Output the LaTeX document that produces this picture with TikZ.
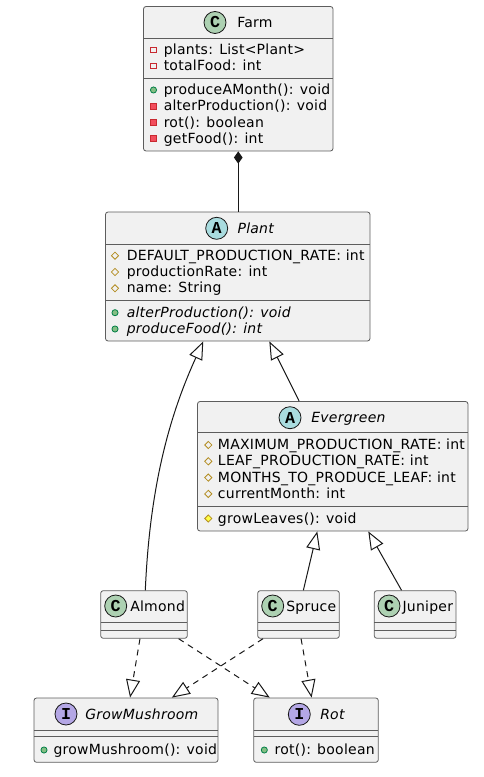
\documentclass[tikz,border=0pt]{standalone}
\usepackage{fontspec}
\setmainfont{DejaVu Sans}[LetterSpace=1.8]
\newfontfamily\circfont{Liberation Mono}
\usetikzlibrary{arrows.meta,fit,calc}
\definecolor{boxfill}{HTML}{F1F1F1}
\definecolor{linec}{HTML}{181818}
\definecolor{cC}{HTML}{ADD1B2}
\definecolor{cA}{HTML}{A9DCDF}
\definecolor{cI}{HTML}{B4A7E5}
\definecolor{privS}{HTML}{C82930}
\definecolor{privF}{HTML}{F24D5C}
\definecolor{protS}{HTML}{B38D22}
\definecolor{protF}{HTML}{FFFF44}
\definecolor{pubS}{HTML}{038048}
\definecolor{pubF}{HTML}{84BE84}
\tikzset{
  box/.style={draw=linec!70, fill=boxfill, line width=0.6pt, rounded corners=1.9pt, inner sep=0pt},
  sepl/.style={draw=linec!70, line width=0.6pt},
  txt/.style={anchor=base west, inner sep=0pt, text=black, font=\fontsize{10.5}{12}\selectfont},
  itxt/.style={txt, font=\fontsize{10.5}{12}\selectfont\itshape},
  letter/.style={circle, draw=linec, line width=0.6pt, minimum size=16.5pt, inner sep=0pt, font=\circfont\bfseries\fontsize{12.5}{12}\selectfont},
  edge/.style={draw=linec, line width=0.75pt},
  ext/.style={edge, -{Triangle[open, length=13.5pt, width=10.5pt, fill=white]}},
  real/.style={ext, dash pattern=on 4.5pt off 3.75pt},
  comp/.style={edge, {Diamond[length=9.2pt, width=6.5pt]}-},
}
% icons: #1 = x centre, #2 = text baseline
\newcommand\privFld[2]{\draw[draw=privS, line width=0.6pt] ({#1-2.8},{#2-7.3}) rectangle ({#1+2.8},{#2-1.7});}
\newcommand\privMth[2]{\draw[draw=privS, fill=privF, line width=0.6pt] ({#1-2.8},{#2-7.3}) rectangle ({#1+2.8},{#2-1.7});}
\newcommand\protFld[2]{\draw[draw=protS, line width=0.6pt] ({#1-3.6},{#2-4.5}) -- ({#1},{#2-8.1}) -- ({#1+3.6},{#2-4.5}) -- ({#1},{#2-0.9}) -- cycle;}
\newcommand\protMth[2]{\draw[draw=protS, fill=protF, line width=0.6pt] ({#1-3.6},{#2-4.5}) -- ({#1},{#2-8.1}) -- ({#1+3.6},{#2-4.5}) -- ({#1},{#2-0.9}) -- cycle;}
\newcommand\pubMth[2]{\draw[draw=pubS, fill=pubF, line width=0.6pt] ({#1},{#2-4.5}) circle[radius=2.3pt];}
% row: name, icon, icon x, text x, baseline, style, text
\newcommand\mrow[7]{#2{#3}{#5}\node[#6] (#1) at (#4,#5) {#7};}
\begin{document}
\begin{tikzpicture}[x=0.75pt, y=-0.75pt]
\useasboundingbox (0,0) rectangle (483,777);

% ---------- Farm ----------
\node[box, fit={(143.5,6.5) (333,151)}] (farm) {};
\draw[sepl] (143.5,38.5) -- (333,38.5);
\draw[sepl] (143.5,78.5) -- (333,78.5);
\node[letter, fill=cC] (farmL) at (215,22.5) {C};
\node[txt] (farmN) at (237,27.7) {Farm};
\mrow{farmA1}{\privFld}{153.5}{163.5}{54.5}{txt}{plants: List<Plant>}
\mrow{farmA2}{\privFld}{153.5}{163.5}{70.5}{txt}{totalFood: int}
\mrow{farmM1}{\pubMth}{153.5}{163.5}{94.5}{txt}{produceAMonth(): void}
\mrow{farmM2}{\privMth}{153.5}{163.5}{110.8}{txt}{alterProduction(): void}
\mrow{farmM3}{\privMth}{153.5}{163.5}{127.1}{txt}{rot(): boolean}
\mrow{farmM4}{\privMth}{153.5}{163.5}{143.2}{txt}{getFood(): int}

% ---------- Plant ----------
\node[box, fit={(105.5,212) (370,341)}] (plant) {};
\draw[sepl] (105.5,244) -- (370,244);
\draw[sepl] (105.5,300.6) -- (370,300.6);
\node[letter, fill=cA] (plantL) at (216.7,228.3) {A};
\node[itxt] (plantN) at (237.3,233.3) {Plant};
\mrow{plantA1}{\protFld}{115}{126.5}{260.2}{txt}{DEFAULT\_PRODUCTION\_RATE: int}
\mrow{plantA2}{\protFld}{115}{126.5}{276.5}{txt}{productionRate: int}
\mrow{plantA3}{\protFld}{115}{126.5}{292.8}{txt}{name: String}
\mrow{plantM1}{\pubMth}{115}{126.5}{317.2}{itxt}{alterProduction(): void}
\mrow{plantM2}{\pubMth}{115}{126.5}{333.5}{itxt}{produceFood(): int}

% ---------- Evergreen ----------
\node[box, fit={(197.5,401.5) (468,531)}] (evergreen) {};
\draw[sepl] (197.5,432.7) -- (468,432.7);
\draw[sepl] (197.5,506.8) -- (468,506.8);
\node[letter, fill=cA] (evergreenL) at (290,417.7) {A};
\node[itxt] (evergreenN) at (311,422.5) {Evergreen};
\mrow{evA1}{\protFld}{208.3}{217.7}{449.5}{txt}{MAXIMUM\_PRODUCTION\_RATE: int}
\mrow{evA2}{\protFld}{208.3}{217.7}{465.8}{txt}{LEAF\_PRODUCTION\_RATE: int}
\mrow{evA3}{\protFld}{208.3}{217.7}{482.1}{txt}{MONTHS\_TO\_PRODUCE\_LEAF: int}
\mrow{evA4}{\protFld}{208.3}{217.7}{498.4}{txt}{currentMonth: int}
\mrow{evM1}{\protMth}{208.3}{217.7}{523}{txt}{growLeaves(): void}

% ---------- Almond / Spruce / Juniper ----------
\node[box, fit={(100.7,590.7) (187.3,638.3)}] (almond) {};
\draw[sepl] (100.7,622.3) -- (187.3,622.3);
\draw[sepl] (100.7,630) -- (187.3,630);
\node[letter, fill=cC] (almondL) at (115.7,606) {C};
\node[txt] (almondN) at (130,611) {Almond};

\node[box, fit={(257.7,590.7) (339.3,638.3)}] (spruce) {};
\draw[sepl] (257.7,622.3) -- (339.3,622.3);
\draw[sepl] (257.7,630) -- (339.3,630);
\node[letter, fill=cC] (spruceL) at (272.7,606) {C};
\node[txt] (spruceN) at (286,611) {Spruce};

\node[box, fit={(374.3,590.7) (456,638.3)}] (juniper) {};
\draw[sepl] (374.3,622.3) -- (456,622.3);
\draw[sepl] (374.3,630) -- (456,630);
\node[letter, fill=cC] (juniperL) at (389,606) {C};
\node[txt] (juniperN) at (402.3,611) {Juniper};

% ---------- Interfaces ----------
\node[box, fit={(34,698) (218,762.3)}] (grow) {};
\draw[sepl] (34,730) -- (218,730);
\draw[sepl] (34,736.7) -- (218,736.7);
\node[letter, fill=cI] (growL) at (66,714) {I};
\node[itxt] (growN) at (85,719) {GrowMushroom};
\mrow{growM1}{\pubMth}{44}{53.3}{754.5}{txt}{growMushroom(): void}

\node[box, fit={(253.7,698) (378.3,762.3)}] (rot) {};
\draw[sepl] (253.7,730) -- (378.3,730);
\draw[sepl] (253.7,736.7) -- (378.3,736.7);
\node[letter, fill=cI] (rotL) at (299.3,714.3) {I};
\node[itxt] (rotN) at (320,719.3) {Rot};
\mrow{rotM1}{\pubMth}{264.3}{274.3}{754.5}{txt}{rot(): boolean}

% ---------- Connectors ----------
\draw[comp] (farm.south) -- (farm.south |- plant.north);
\draw[ext] ($(almond.north west)!0.515!(almond.north east)$) .. controls (150,480) and (172,410) .. ($(plant.south west)!0.37!(plant.south east)$);
\draw[ext] ($(evergreen.north west)!0.376!(evergreen.north east)$) -- ($(plant.south west)!0.619!(plant.south east)$);
\draw[ext] ($(spruce.north west)!0.559!(spruce.north east)$) -- ($(evergreen.south west)!0.443!(evergreen.south east)$);
\draw[ext] ($(juniper.north west)!0.335!(juniper.north east)$) -- ($(evergreen.south west)!0.631!(evergreen.south east)$);
\draw[real] ($(almond.south west)!0.454!(almond.south east)$) -- ($(grow.north west)!0.522!(grow.north east)$);
\draw[real] ($(almond.south west)!0.896!(almond.south east)$) -- ($(rot.north west)!0.131!(rot.north east)$);
\draw[real] ($(spruce.south west)!0.069!(spruce.south east)$) -- ($(grow.north west)!0.748!(grow.north east)$);
\draw[real] ($(spruce.south west)!0.531!(spruce.south east)$) -- ($(rot.north west)!0.465!(rot.north east)$);
\end{tikzpicture}
\end{document}
